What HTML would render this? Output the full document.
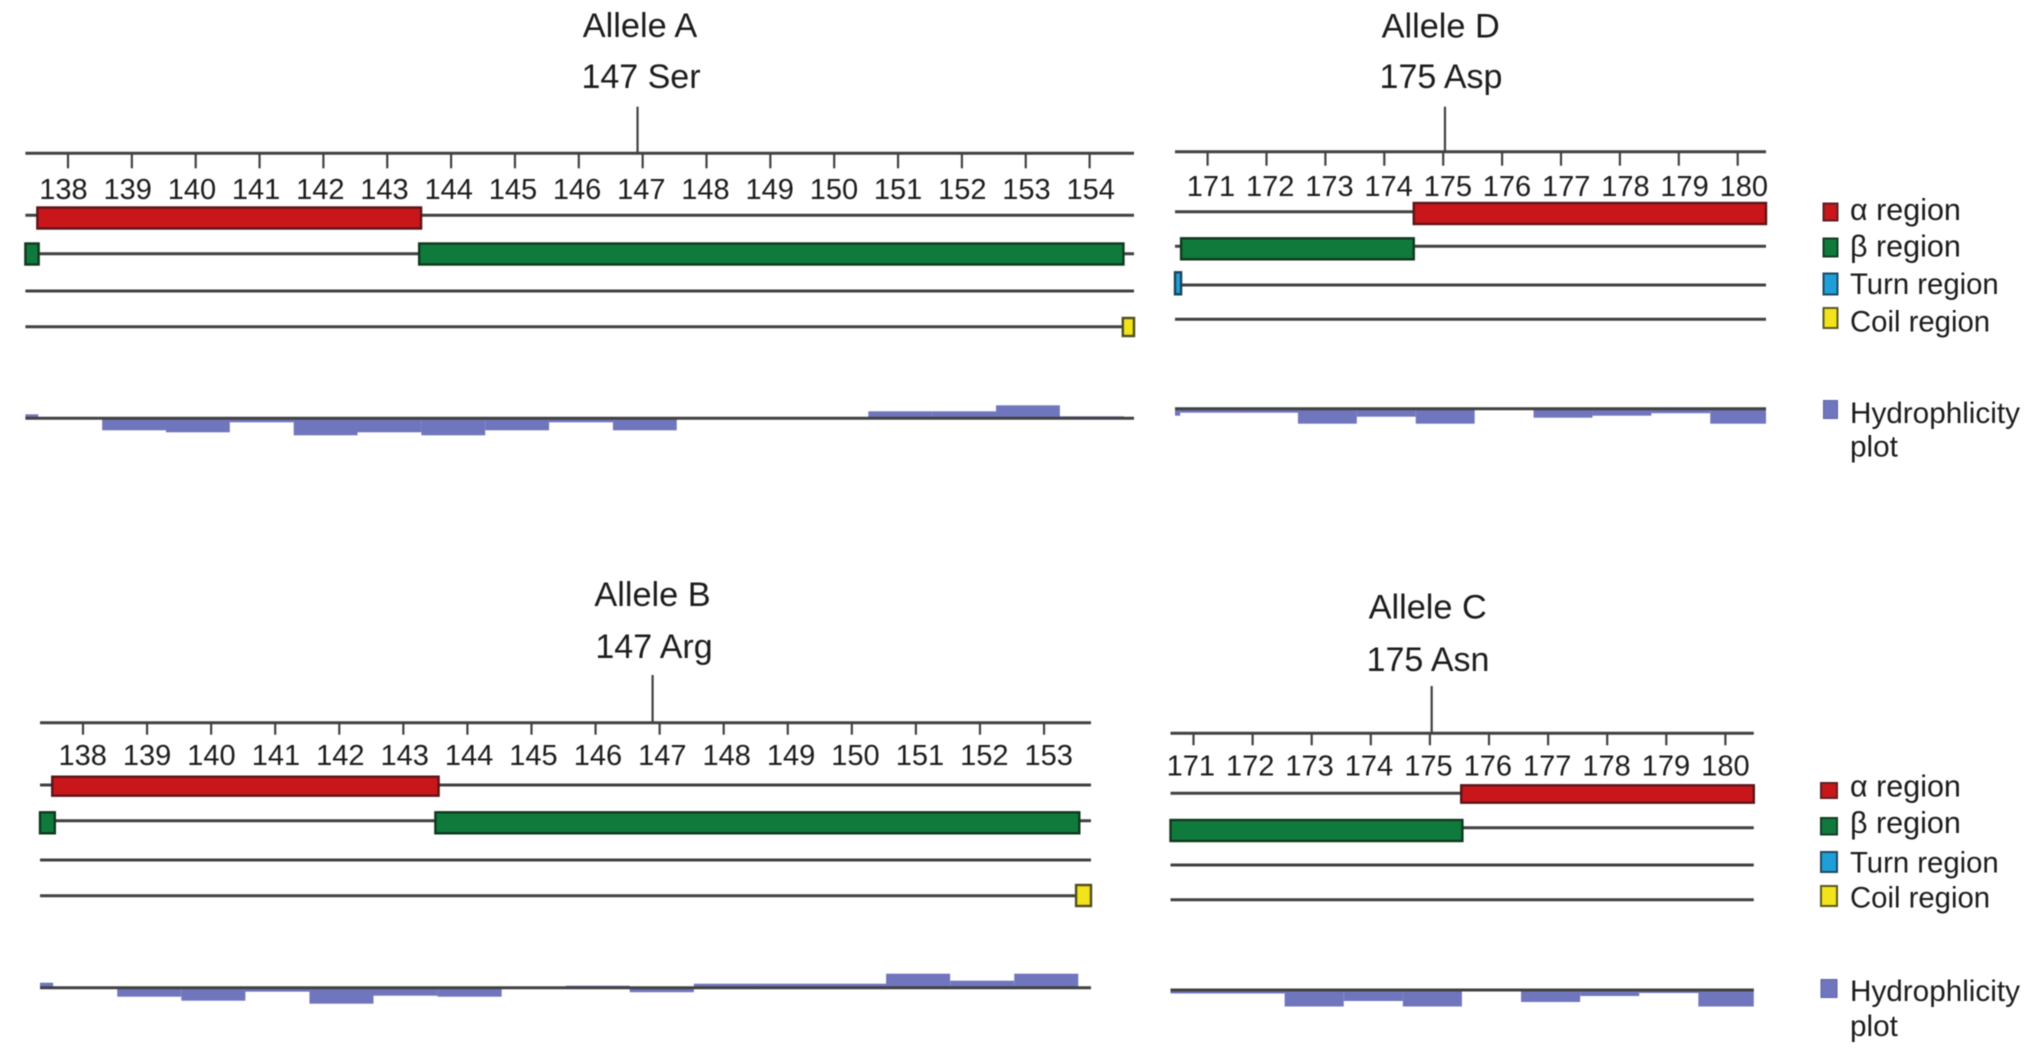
<!DOCTYPE html>
<html lang="en">
<head>
<meta charset="utf-8">
<title>Allele secondary structure predictions</title>
<style>
  html, body { margin: 0; padding: 0; background: #fff; }
  #chart { display: block; width: 2032px; height: 1056px; filter: blur(0.6px); }
  text { font-family: "Liberation Sans", "DejaVu Sans", sans-serif; fill: #1c1c1c; }
</style>
</head>
<body>
<svg id="chart" xmlns="http://www.w3.org/2000/svg" width="2032" height="1056" viewBox="0 0 2032 1056">
  <rect width="2032" height="1056" fill="#fff"/>
  <g id="panels"></g>

  <g font-size="29.3">
    <g><rect x="1823.5" y="203.5" width="14" height="17" fill="#c8161b" stroke="#5b2024" stroke-width="2"/><text x="1850" y="220" font-size="30.5">α region</text></g>
    <g><rect x="1823.5" y="238.5" width="14" height="18" fill="#107a3c" stroke="#123d26" stroke-width="2"/><text x="1850" y="256.5" font-size="30.5">β region</text></g>
    <g><rect x="1823.5" y="273.5" width="14" height="21" fill="#1f9fd8" stroke="#1f4a60" stroke-width="2"/><text x="1850" y="294">Turn region</text></g>
    <g><rect x="1823.5" y="308" width="14" height="20" fill="#f2e31a" stroke="#5c5a20" stroke-width="2"/><text x="1850" y="331.5">Coil region</text></g>
    <g><rect x="1823.5" y="400.5" width="14" height="18" fill="#7076bd" stroke="#5a60a8" stroke-width="1"/><text x="1850" y="423" font-size="29.7">Hydrophlicity</text><text x="1850" y="456.5" font-size="29.7">plot</text></g>
  </g>

  <g font-size="29.3">
    <g><rect x="1821" y="783" width="16" height="15" fill="#c8161b" stroke="#5b2024" stroke-width="2"/><text x="1850" y="796.5" font-size="30.5">α region</text></g>
    <g><rect x="1821" y="818" width="16" height="16.5" fill="#107a3c" stroke="#123d26" stroke-width="2"/><text x="1850" y="833" font-size="30.5">β region</text></g>
    <g><rect x="1821" y="852" width="16" height="20" fill="#1f9fd8" stroke="#1f4a60" stroke-width="2"/><text x="1850" y="872.5">Turn region</text></g>
    <g><rect x="1821" y="886" width="16" height="20" fill="#f2e31a" stroke="#5c5a20" stroke-width="2"/><text x="1850" y="907.5">Coil region</text></g>
    <g><rect x="1821" y="979.5" width="16" height="18" fill="#7076bd" stroke="#5a60a8" stroke-width="1"/><text x="1850" y="1001" font-size="29.7">Hydrophlicity</text><text x="1850" y="1036" font-size="29.7">plot</text></g>
  </g>
</svg>

<script>
// Residue tick labels
const ticksA = [138,139,140,141,142,143,144,145,146,147,148,149,150,151,152,153,154];
const ticksB = [138,139,140,141,142,143,144,145,146,147,148,149,150,151,152,153];
const ticksD = [171,172,173,174,175,176,177,178,179,180];
const ticksC = [171,172,173,174,175,176,177,178,179,180];

// Secondary-structure segments: [from residue, to residue]
const alphaA = [[137.52,143.53]];
const betaA  = [[136.5,137.54],[143.5,154.53]];
const turnA  = [];
const coilA  = [[154.52,155.5]];

const alphaB = [[137.52,143.55]];
const betaB  = [[136.5,137.56],[143.5,153.55]];
const turnB  = [];
const coilB  = [[153.5,154.5]];

const alphaD = [[174.5,181]];
const betaD  = [[170.55,174.5]];
const turnD  = [[170,170.55]];
const coilD  = [];

const alphaC = [[175.53,181]];
const betaC  = [[170,175.55]];
const turnC  = [];
const coilC  = [];

// Hydrophilicity per residue
const hydroResiduesA = [137,138,139,140,141,142,143,144,145,146,147,148,149,150,151,152,153,154];
const hydroValuesA   = [0.4,0,-1.2,-1.4,-0.4,-1.7,-1.4,-1.7,-1.2,-0.4,-1.2,0,0,0,0.7,0.7,1.3,0.2];
const hydroResiduesB = [137,138,139,140,141,142,143,144,145,146,147,148,149,150,151,152,153];
const hydroValuesB   = [0.5,0,-0.9,-1.3,-0.4,-1.6,-0.8,-0.9,0,0.2,-0.45,0.4,0.4,0.4,1.4,0.7,1.4];
const hydroResiduesD = [170,171,172,173,174,175,176,177,178,179,180];
const hydroValuesD   = [-0.7,-0.4,-0.4,-1.5,-0.8,-1.5,0,-0.9,-0.7,-0.45,-1.5];
const hydroResiduesC = [170,171,172,173,174,175,176,177,178,179,180];
const hydroValuesC   = [-0.3,-0.35,-0.35,-1.65,-1.1,-1.65,0,-1.2,-0.6,-0.3,-1.65];

const colors = {
  alpha: ['#c8161b', '#5b1518'],
  beta:  ['#107a3c', '#10381f'],
  turn:  ['#1f9fd8', '#1c4358'],
  coil:  ['#f2e31a', '#4f4d1c'],
  hydro: '#7076bd',
  line:  '#414141'
};

const panels = [
  { id:'allele-a', title:'Allele A', sub:'147 Ser', ticks:ticksA,
    alpha:alphaA, beta:betaA, turn:turnA, coil:coilA, hr:hydroResiduesA, hv:hydroValuesA,
    origin:138, x0:68, unit:63.85, left:25.4, right:1134,
    labelX0:63.5, labelUnit:64.2, axisY:153.3, tickLen:15, labelY:199,
    titleX:640, titleY:37, subX:641, subY:88, markRes:146.92, markTop:106.7,
    rows:[215.3,253.7,291,326.7], bars:[[207.5,21],[243.5,21],[280,21],[318,18]], hydroY:418.3, hydroShift:2.2 },
  { id:'allele-b', title:'Allele B', sub:'147 Arg', ticks:ticksB,
    alpha:alphaB, beta:betaB, turn:turnB, coil:coilB, hr:hydroResiduesB, hv:hydroValuesB,
    origin:138, x0:83, unit:64.07, left:40, right:1091,
    labelX0:82.7, labelUnit:64.4, axisY:722.7, tickLen:12, labelY:765,
    titleX:652.5, titleY:606, subX:654, subY:658, markRes:146.89, markTop:675,
    rows:[785,820.7,860,895.7], bars:[[776.7,19],[812.3,21],[849,21],[885,21]], hydroY:987.7, hydroShift:2.2 },
  { id:'allele-d', title:'Allele D', sub:'175 Asp', ticks:ticksD,
    alpha:alphaD, beta:betaD, turn:turnD, coil:coilD, hr:hydroResiduesD, hv:hydroValuesD,
    origin:171, x0:1207.6, unit:58.9, left:1175, right:1766,
    labelX0:1211, labelUnit:59.2, axisY:151.7, tickLen:14, labelY:196,
    titleX:1440.7, titleY:37.3, subX:1441, subY:88, markRes:175.03, markTop:106.7,
    rows:[211.7,246.3,285,319.3], bars:[[203,21],[238.3,21],[272.3,22],[309,21]], hydroY:408.7, hydroShift:2 },
  { id:'allele-c', title:'Allele C', sub:'175 Asn', ticks:ticksC,
    alpha:alphaC, beta:betaC, turn:turnC, coil:coilC, hr:hydroResiduesC, hv:hydroValuesC,
    origin:171, x0:1193.5, unit:59.1, left:1170.5, right:1753.8,
    labelX0:1190.8, labelUnit:59.4, axisY:733.3, tickLen:12, labelY:775.5,
    titleX:1427.7, titleY:618.7, subX:1428, subY:671, markRes:175.03, markTop:686,
    rows:[793.3,827.7,865,899.7], bars:[[785.3,17.4],[820,21],[854,21],[889,21]], hydroY:990, hydroShift:2.5 }
];

const SVG_NS = 'http://www.w3.org/2000/svg';
const HYDRO_SCALE = 10; // px per hydrophilicity unit

function make(parent, tag, attrs, name) {
  const el = document.createElementNS(SVG_NS, tag);
  for (const k in attrs) el.setAttribute(k, attrs[k]);
  
  
  parent.appendChild(el);
  return el;
}

function drawPanel(root, p) {
  const g = make(root, 'g', {}, p.id + '-panel');
  const xScale = r => p.x0 + (r - p.origin) * p.unit;
  const xLabel = r => p.labelX0 + (r - p.origin) * p.labelUnit;
  const clampX = px => Math.min(p.right, Math.max(p.left, px));
  const yHydro = v => p.hydroY - v * HYDRO_SCALE;

  make(g, 'text', { x:p.titleX, y:p.titleY, 'font-size':34.3, 'text-anchor':'middle' }, p.id + '-title').textContent = p.title;
  make(g, 'text', { x:p.subX, y:p.subY, 'font-size':34, 'text-anchor':'middle' }, p.id + '-residue-label').textContent = p.sub;

  make(g, 'line', { x1:p.left, x2:p.right, y1:p.axisY, y2:p.axisY, stroke:colors.line, 'stroke-width':3 }, 'residue-axis');
  make(g, 'line', { x1:xScale(p.markRes), x2:xScale(p.markRes), y1:p.markTop, y2:p.axisY, stroke:colors.line, 'stroke-width':2.2 }, 'variant-marker');

  p.ticks.forEach(t => {
    make(g, 'line', { x1:xScale(t), x2:xScale(t), y1:p.axisY, y2:p.axisY + p.tickLen, stroke:colors.line, 'stroke-width':2.2 }, 'axis-tick');
    make(g, 'text', { x:xLabel(t), y:p.labelY, 'font-size':29, 'text-anchor':'middle' }, 'tick-label').textContent = t;
  });

  const tracks = [['alpha', p.alpha], ['beta', p.beta], ['turn', p.turn], ['coil', p.coil]];
  tracks.forEach((track, i) => {
    const key = track[0];
    make(g, 'line', { x1:p.left, x2:p.right, y1:p.rows[i], y2:p.rows[i], stroke:colors.line, 'stroke-width':3 }, key + '-track-line');
    track[1].forEach(seg => {
      const a = clampX(xScale(seg[0]));
      const b = clampX(xScale(seg[1]));
      make(g, 'rect', { x:a, y:p.bars[i][0], width:b - a, height:p.bars[i][1],
        fill:colors[key][0], stroke:colors[key][1], 'stroke-width':2.4 }, key + '-segment');
    });
  });

  p.hr.forEach((r, i) => {
    const v = p.hv[i];
    if (v === 0) return;
    const a = clampX(xScale(r - 0.5) + p.hydroShift);
    const b = clampX(xScale(r + 0.5) + p.hydroShift);
    const y0 = yHydro(0);
    const y1 = yHydro(v);
    make(g, 'rect', { x:a, y:Math.min(y0, y1), width:b - a, height:Math.abs(y1 - y0), fill:colors.hydro }, 'hydrophilicity-bar');
  });
  make(g, 'line', { x1:p.left, x2:p.right, y1:p.hydroY, y2:p.hydroY, stroke:colors.line, 'stroke-width':3 }, 'hydrophilicity-baseline');
}

const root = document.getElementById('panels');
panels.forEach(p => drawPanel(root, p));
</script>
</body>
</html>
